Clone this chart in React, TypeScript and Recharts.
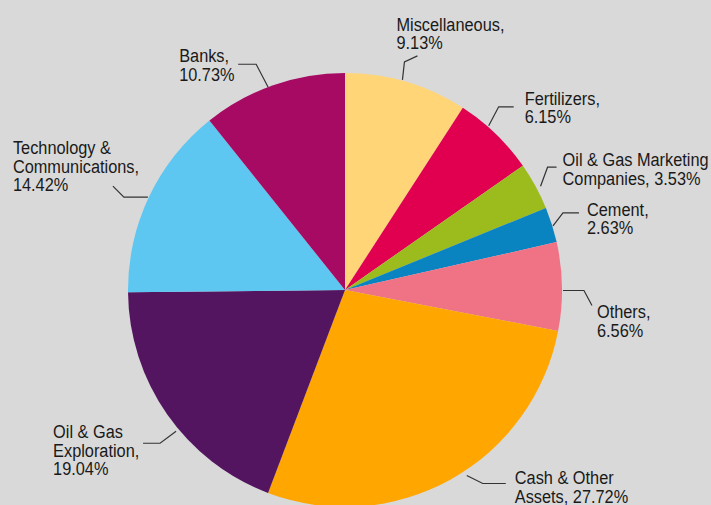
import React from "react";
import { PieChart, Pie, Cell } from "recharts";

const categories = [
  "Miscellaneous",
  "Fertilizers",
  "Oil & Gas Marketing Companies",
  "Cement",
  "Others",
  "Cash & Other Assets",
  "Oil & Gas Exploration",
  "Technology & Communications",
  "Banks",
];
const shares = [9.13, 6.15, 3.53, 2.63, 6.56, 27.72, 19.04, 14.42, 10.73];
const labelLines = [
  ["Miscellaneous,", "9.13%"],
  ["Fertilizers,", "6.15%"],
  ["Oil & Gas Marketing", "Companies, 3.53%"],
  ["Cement,", "2.63%"],
  ["Others,", "6.56%"],
  ["Cash & Other", "Assets, 27.72%"],
  ["Oil & Gas", "Exploration,", "19.04%"],
  ["Technology &", "Communications,", "14.42%"],
  ["Banks,", "10.73%"],
];
const colors = [
  "#ffd577",
  "#e0004f",
  "#9cbb1d",
  "#0a83c1",
  "#f07385",
  "#ffa600",
  "#53155f",
  "#5ec7f1",
  "#a60a63",
];

const data = categories.map((name, i) => ({ name, value: shares[i] }));

// leader-line layout offsets relative to the slice's outer edge at mid angle
const leader = [
  { start: [-4, -2], elbow: [-2, -20], end: [11, -26], text: [-10, -51] },
  { start: [-7, -8], elbow: [3, -27], end: [18, -27], text: [29, -29] },
  { start: [5, 0], elbow: [12, -19], end: [21, -19], text: [27, -20] },
  { start: [1, 1], elbow: [11, -12], end: [27, -12], text: [35, -9] },
  { start: [1, 4], elbow: [22, 4], end: [30, 19], text: [35, 32] },
  { start: [16, -4], elbow: [32, 4], end: [55, 4], text: [64, 5] },
  { start: [9, 17], elbow: [-7, 29], end: [-24, 29], text: [-114, 24] },
  { start: [-1, 0], elbow: [-25, 0], end: [-36, -11], text: [-136, -43] },
  { start: [-5, 2], elbow: [-17, -21], end: [-35, -21], text: [-94, -23] },
];

const FONT = "'Liberation Sans', Arial, sans-serif";

const renderLabel = (props: any) => {
  const { cx, cy, midAngle, outerRadius, index } = props;
  const rad = Math.PI / 180;
  const ex = cx + outerRadius * Math.cos(-midAngle * rad);
  const ey = cy + outerRadius * Math.sin(-midAngle * rad);
  const L = leader[index];
  const pts = [L.start, L.elbow, L.end]
    .map(([dx, dy]) => `${ex + dx},${ey + dy}`)
    .join(" ");
  const tx = ex + L.text[0];
  const ty = ey + L.text[1];
  return (
    <g key={`lbl-${index}`}>
      <polyline points={pts} fill="none" stroke="#333333" strokeWidth={1.2} />
      <g transform={`translate(${tx},${ty}) scale(0.86,1)`}>
        <text
          x={0}
          y={0}
          fill="#1a1a1a"
          fontFamily={FONT}
          fontSize={19}
          textAnchor="start"
        >
          {labelLines[index].map((t, j) => (
            <tspan key={j} x={0} dy={j === 0 ? 0 : 18.5}>
              {t}
            </tspan>
          ))}
        </text>
      </g>
    </g>
  );
};

export default function App() {
  return (
    <div
      style={{
        position: "absolute",
        left: 0,
        top: 0,
        width: 711,
        height: 505,
        background: "#d9d9d9",
        overflow: "hidden",
      }}
    >
      <PieChart width={711} height={505} margin={{ top: 0, right: 0, bottom: 0, left: 0 }}>
        <Pie
          data={data}
          dataKey="value"
          nameKey="name"
          cx={345}
          cy={290}
          outerRadius={217}
          startAngle={90}
          endAngle={-270}
          stroke="none"
          label={renderLabel}
          labelLine={false}
          isAnimationActive={false}
        >
          {data.map((d, i) => (
            <Cell key={d.name} fill={colors[i]} />
          ))}
        </Pie>
      </PieChart>
    </div>
  );
}
